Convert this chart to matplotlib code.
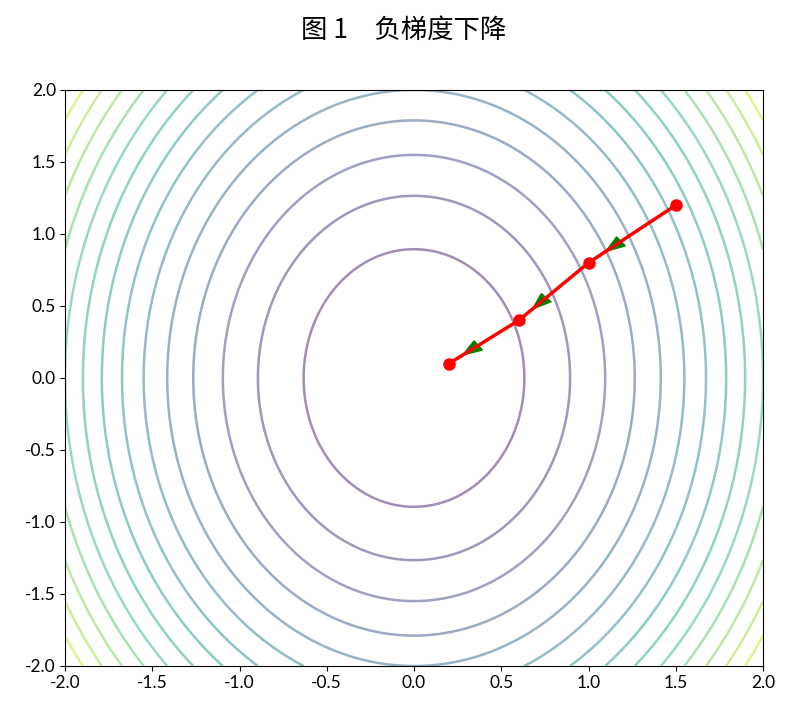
import numpy as np
import matplotlib
matplotlib.use("Agg")
import matplotlib.pyplot as plt

plt.rcParams['font.family'] = ['Lato', 'Noto Sans CJK SC', 'DejaVu Sans']
plt.rcParams['axes.unicode_minus'] = False

title = "图 1　负梯度下降"
path_x = [1.5, 1.0, 0.6, 0.2]
path_y = [1.2, 0.8, 0.4, 0.1]
ticks = [-2.0, -1.5, -1.0, -0.5, 0.0, 0.5, 1.0, 1.5, 2.0]
coef_x, coef_y = 2.0, 1.0
levels = np.linspace(0, 12, 16)

fig = plt.figure(figsize=(7.92, 7.17), dpi=100)
ax = fig.add_axes([65/792, 1-666/717, 698/792, 576/717])

g = np.linspace(-2, 2, 400)
X, Y = np.meshgrid(g, g)
Z = coef_x * X**2 + coef_y * Y**2
ax.contour(X, Y, Z, levels=levels, cmap='viridis', alpha=0.5, linewidths=1.8)

for i in range(len(path_x) - 1):
    dx = path_x[i+1] - path_x[i]
    dy = path_y[i+1] - path_y[i]
    ax.arrow(path_x[i], path_y[i], 0.8*dx, 0.8*dy, head_width=0.08, head_length=0.11,
             length_includes_head=True, fc='green', ec='green', width=0.0, zorder=3)

ax.plot(path_x, path_y, '-o', color='red', lw=2.5, ms=8, zorder=4)

ax.set_xlim(-2, 2)
ax.set_ylim(-2, 2)
ax.set_xticks(ticks)
ax.set_yticks(ticks)
ax.set_xticklabels([f"{t:.1f}" for t in ticks])
ax.set_yticklabels([f"{t:.1f}" for t in ticks])
ax.tick_params(labelsize=12.5, pad=3)
fig.text(404/792, 1-30/717, title, ha='center', va='center', fontsize=19,
         family=['Noto Sans CJK SC', 'DejaVu Sans'])

fig.savefig("out.png", dpi=100)
